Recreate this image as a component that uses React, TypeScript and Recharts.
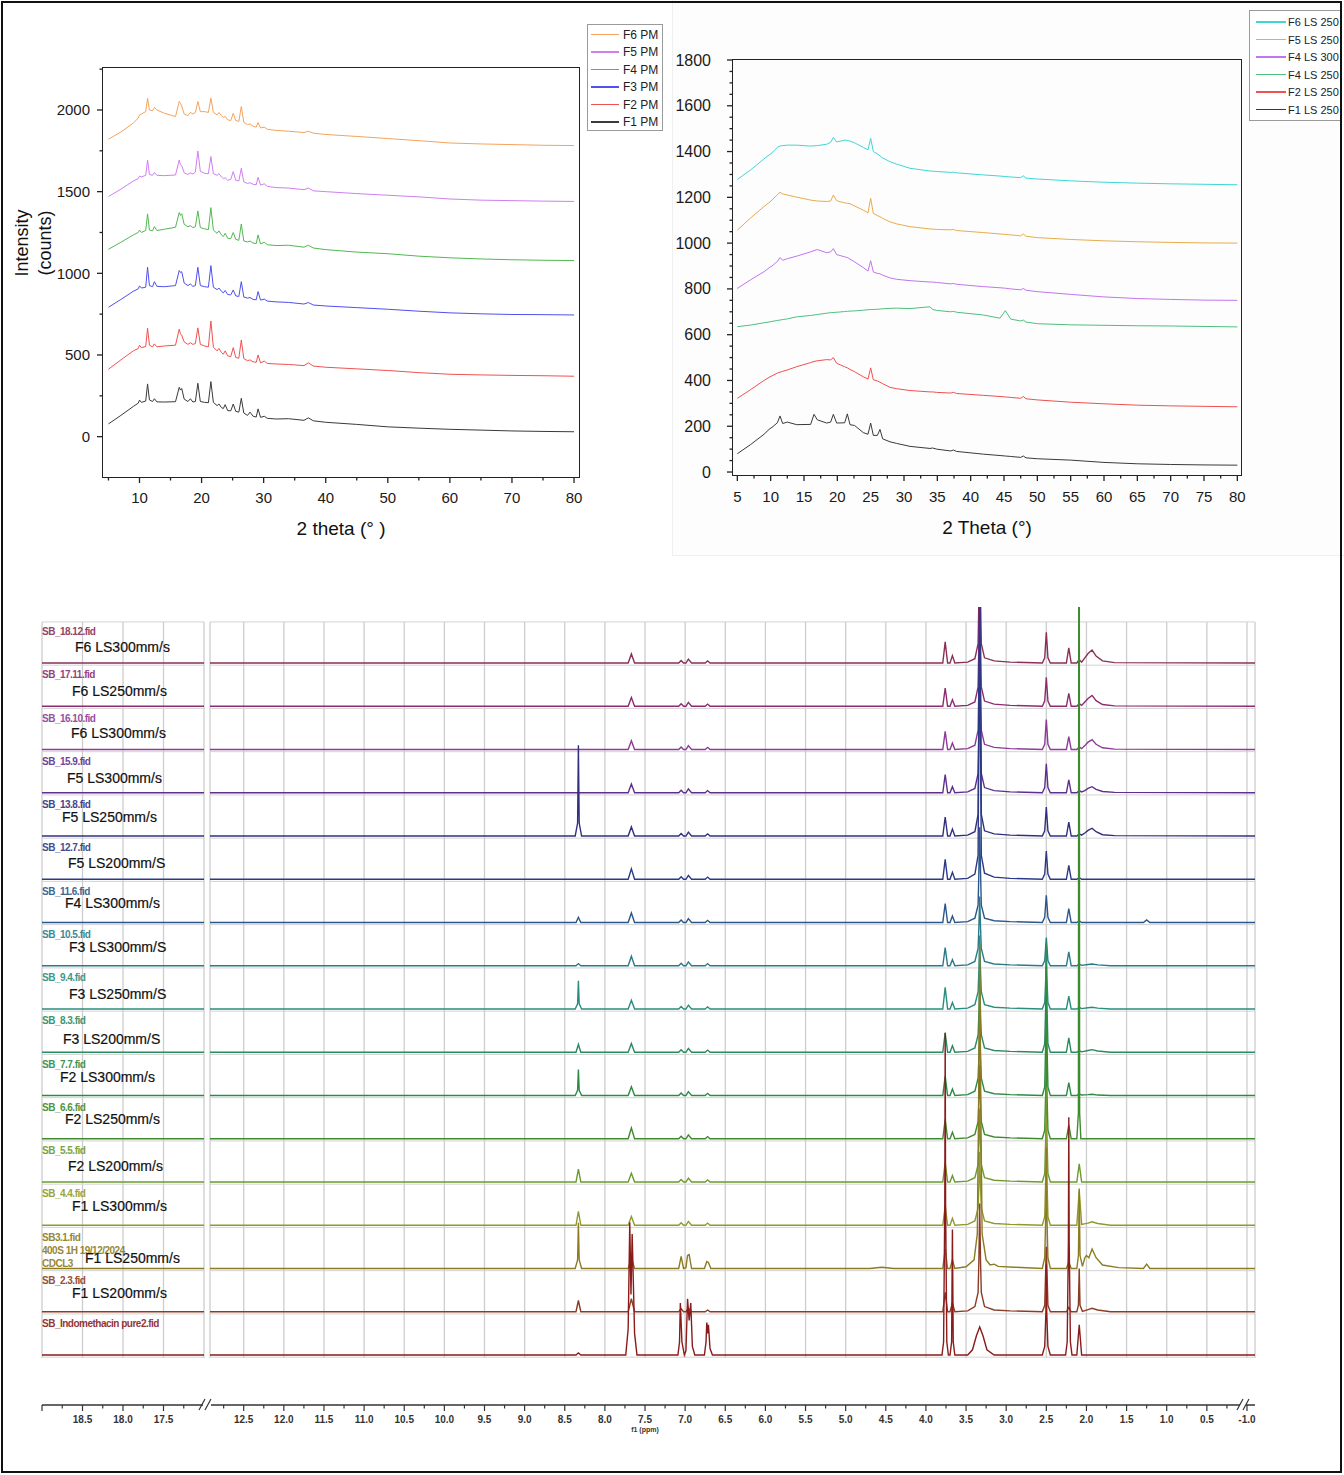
import React from 'react';
import { LineChart, Line, XAxis, YAxis, ReferenceLine } from 'recharts';

const FONT = '"Liberation Sans", Arial, Helvetica, sans-serif';

/* ================= Top-left XRD: physical mixtures ================= */
const pmTheta = [5, 7, 9, 9.8, 10.0, 10.3, 11.0, 11.3, 11.6, 12.1, 12.4, 12.8, 14, 15.8, 16.4, 16.6, 16.8, 17.2, 17.8, 18.2, 18.6, 19.0, 19.4, 19.8, 20.5, 21.1, 21.5, 21.9, 22.5, 22.8, 23.2, 23.5, 23.8, 24.2, 24.7, 25.1, 25.5, 26.0, 26.4, 26.8, 27.4, 27.8, 28.3, 28.8, 29.1, 29.5, 30.1, 30.6, 32, 34, 36.5, 37.2, 38, 40, 45, 50, 55, 60, 65, 70, 75, 80];
const pmF1 = [78, 130, 185, 205, 224, 210, 218, 323, 225, 215, 232, 213, 212, 214, 302, 285, 295, 230, 215, 232, 212, 215, 327, 215, 210, 208, 337, 210, 190, 200, 178, 172, 196, 160, 158, 200, 155, 150, 235, 145, 130, 150, 125, 120, 170, 118, 125, 112, 108, 110, 100, 115, 97, 88, 75, 60, 52, 45, 40, 35, 32, 30];
const pmF2 = [413, 470, 525, 540, 560, 545, 552, 664, 560, 550, 568, 550, 555, 560, 658, 630, 621, 580, 565, 575, 565, 570, 666, 565, 555, 550, 708, 548, 525, 540, 515, 505, 525, 495, 490, 545, 485, 480, 592, 478, 465, 470, 458, 455, 500, 452, 462, 448, 445, 442, 435, 452, 432, 425, 415, 405, 392, 382, 378, 375, 373, 370];
const pmF3 = [792, 840, 890, 905, 923, 910, 915, 1037, 925, 918, 949, 920, 918, 925, 1017, 1005, 1010, 940, 925, 935, 920, 925, 1037, 925, 918, 915, 1047, 915, 900, 910, 890, 880, 895, 870, 868, 898, 862, 858, 949, 855, 848, 852, 840, 838, 888, 836, 842, 830, 825, 822, 812, 821, 806, 800, 790, 780, 768, 758, 752, 748, 747, 745];
const pmF4 = [1147, 1190, 1235, 1250, 1265, 1250, 1262, 1364, 1265, 1260, 1286, 1262, 1270, 1282, 1372, 1355, 1365, 1300, 1285, 1292, 1280, 1285, 1382, 1280, 1272, 1268, 1402, 1265, 1245, 1260, 1235, 1225, 1245, 1215, 1212, 1250, 1208, 1202, 1302, 1198, 1192, 1198, 1185, 1182, 1235, 1180, 1190, 1175, 1170, 1172, 1160, 1172, 1155, 1145, 1130, 1120, 1105, 1095, 1088, 1083, 1080, 1078];
const pmF5 = [1470, 1515, 1565, 1580, 1595, 1590, 1600, 1694, 1605, 1600, 1617, 1600, 1598, 1602, 1694, 1665, 1660, 1615, 1605, 1615, 1608, 1620, 1749, 1625, 1612, 1610, 1715, 1610, 1600, 1610, 1590, 1580, 1585, 1570, 1575, 1623, 1570, 1565, 1643, 1560, 1550, 1555, 1545, 1542, 1588, 1540, 1548, 1532, 1525, 1522, 1512, 1522, 1505, 1500, 1488, 1478, 1468, 1455, 1448, 1445, 1442, 1440];
const pmF6 = [1821, 1865, 1920, 1950, 1970, 1975, 1990, 2072, 2000, 1995, 2015, 2000, 1980, 1960, 2052, 2040, 2025, 1975, 1965, 1985, 1975, 1985, 2052, 1990, 1990, 1985, 2072, 1985, 1970, 1985, 1965, 1955, 1960, 1940, 1935, 1980, 1935, 1930, 2021, 1925, 1910, 1915, 1900, 1895, 1923, 1890, 1895, 1882, 1875, 1870, 1862, 1870, 1858, 1850, 1838, 1825, 1812, 1798, 1792, 1788, 1784, 1782];
const pmNames = ['F6 PM', 'F5 PM', 'F4 PM', 'F3 PM', 'F2 PM', 'F1 PM'];
const pmColors = ['#f5a35c', '#cf7ff0', '#52b852', '#5050ee', '#f05252', '#3a3a3a'];
const pmValues = [pmF6, pmF5, pmF4, pmF3, pmF2, pmF1];
const pmXTicks = [5, 10, 15, 20, 25, 30, 35, 40, 45, 50, 55, 60, 65, 70, 75, 80];
const pmYTicks = [0, 250, 500, 750, 1000, 1250, 1500, 1750, 2000, 2250];

/* ================= Top-right XRD: laser-sintered ================= */
const lsTheta = [5, 7, 9, 9.9, 10.2, 11.0, 11.4, 11.8, 12.5, 13.9, 16.0, 16.5, 17.0, 18.4, 19.0, 19.4, 19.9, 21.1, 21.5, 21.9, 22.6, 23.9, 24.6, 25.0, 25.4, 26.0, 26.4, 26.8, 27.9, 28.9, 30.9, 33.9, 34.3, 34.9, 37.0, 37.4, 37.9, 41.9, 44.4, 45.2, 46.0, 47.5, 47.9, 48.3, 50, 55, 60, 65, 70, 75, 80];
const lsF1 = [80, 120, 165, 190, 195, 215, 245, 212, 218, 207, 208, 252, 228, 214, 218, 252, 214, 215, 254, 207, 203, 172, 165, 214, 160, 160, 186, 145, 132, 125, 112, 103, 105, 100, 92, 96, 90, 78, 72, 70, 68, 64, 70, 62, 58, 52, 42, 36, 33, 31, 30];
const lsF2 = [322, 360, 400, 416, 420, 432, 436, 440, 446, 460, 478, 483, 486, 491, 490, 500, 475, 460, 455, 448, 438, 416, 406, 455, 403, 398, 392, 386, 370, 364, 356, 350, 350, 348, 345, 348, 343, 335, 330, 328, 326, 322, 330, 320, 315, 305, 298, 292, 289, 287, 285];
const lsF4a = [635, 642, 652, 656, 658, 662, 664, 666, 669, 678, 684, 686, 688, 694, 696, 697, 698, 701, 702, 703, 704, 707, 709, 710, 710, 711, 712, 713, 715, 716, 714, 722, 710, 706, 700, 702, 698, 686, 672, 705, 668, 660, 664, 655, 648, 643, 641, 639, 638, 636, 634];
const lsF4b = [802, 840, 875, 895, 900, 920, 937, 925, 932, 943, 962, 967, 972, 958, 962, 976, 950, 940, 937, 930, 918, 893, 878, 923, 874, 868, 866, 860, 848, 842, 836, 830, 830, 828, 822, 824, 820, 810, 805, 803, 800, 796, 802, 794, 788, 776, 765, 758, 754, 751, 750];
const lsF5 = [1057, 1110, 1160, 1180, 1188, 1212, 1222, 1215, 1210, 1201, 1188, 1186, 1184, 1182, 1184, 1210, 1185, 1176, 1174, 1172, 1162, 1144, 1132, 1196, 1130, 1120, 1116, 1108, 1093, 1084, 1072, 1062, 1061, 1060, 1058, 1060, 1055, 1046, 1040, 1038, 1036, 1032, 1040, 1030, 1024, 1016, 1010, 1006, 1003, 1001, 1000];
const lsF6 = [1278, 1320, 1368, 1388, 1395, 1418, 1424, 1426, 1428, 1428, 1424, 1425, 1426, 1432, 1440, 1462, 1442, 1450, 1448, 1446, 1438, 1418, 1408, 1458, 1400, 1390, 1381, 1372, 1356, 1345, 1327, 1315, 1314, 1313, 1309, 1310, 1307, 1298, 1293, 1291, 1289, 1286, 1294, 1284, 1280, 1272, 1266, 1262, 1259, 1257, 1255];
const lsNames = ['F6 LS 250', 'F5 LS 250', 'F4 LS 300', 'F4 LS 250', 'F2 LS 250', 'F1 LS 250'];
const lsColors = ['#3fd6d6', '#e6ad4e', '#c275ee', '#4fbf7f', '#ef5050', '#3a3a3a'];
const lsValues = [lsF6, lsF5, lsF4b, lsF4a, lsF2, lsF1];
const lsXTicks = [5, 7.5, 10, 12.5, 15, 17.5, 20, 22.5, 25, 27.5, 30, 32.5, 35, 37.5, 40, 42.5, 45, 47.5, 50, 52.5, 55, 57.5, 60, 62.5, 65, 67.5, 70, 72.5, 75, 77.5, 80];
const lsYTicks = [0, 50, 100, 150, 200, 250, 300, 350, 400, 450, 500, 550, 600, 650, 700, 750, 800, 850, 900, 950, 1000, 1050, 1100, 1150, 1200, 1250, 1300, 1350, 1400, 1450, 1500, 1550, 1600, 1650, 1700, 1750, 1800];

/* ================= Bottom: 1H NMR stack ([ppm, relative intensity]) ================= */
const nmrT01 = [[12.92, 0], [7.71, 0], [7.67, 0.21], [7.63, 0], [7.08, 0], [7.05, 0.06], [7.02, 0], [6.99, 0], [6.96, 0.09], [6.92, 0], [6.75, 0], [6.72, 0.05], [6.69, 0], [3.79, 0], [3.76, 0.49], [3.73, 0], [3.70, 0], [3.67, 0.17], [3.64, 0], [3.48, 0.02], [3.39, 0.1], [3.35, 0.45], [3.34, 1.5], [3.33, 3.2], [3.32, 1.5], [3.31, 0.45], [3.27, 0.12], [3.15, 0.05], [2.95, 0.02], [2.55, 0], [2.52, 0.12], [2.50, 0.71], [2.48, 0.12], [2.45, 0], [2.25, 0], [2.22, 0.35], [2.19, 0], [2.12, 0], [2.09, 0.08], [2.06, 0.02], [2.02, 0.12], [1.98, 0.22], [1.93, 0.30], [1.88, 0.16], [1.80, 0.05], [1.65, 0.01], [-0.1, 0]];
const nmrT02 = [[12.92, 0], [7.71, 0], [7.67, 0.2], [7.63, 0], [7.08, 0], [7.05, 0.06], [7.02, 0], [6.99, 0], [6.96, 0.09], [6.92, 0], [6.75, 0], [6.72, 0.05], [6.69, 0], [3.79, 0], [3.76, 0.42], [3.73, 0], [3.70, 0], [3.67, 0.15], [3.64, 0], [3.48, 0.02], [3.39, 0.1], [3.35, 0.45], [3.34, 1.5], [3.33, 3.0], [3.32, 1.5], [3.31, 0.45], [3.27, 0.12], [3.15, 0.05], [2.95, 0.02], [2.55, 0], [2.52, 0.12], [2.50, 0.67], [2.48, 0.12], [2.45, 0], [2.25, 0], [2.22, 0.30], [2.19, 0], [2.12, 0], [2.09, 0.06], [2.06, 0.02], [2.02, 0.1], [1.98, 0.18], [1.93, 0.25], [1.88, 0.13], [1.80, 0.04], [1.65, 0.01], [-0.1, 0]];
const nmrT03 = [[12.92, 0], [7.71, 0], [7.67, 0.2], [7.63, 0], [7.08, 0], [7.05, 0.06], [7.02, 0], [6.99, 0], [6.96, 0.09], [6.92, 0], [6.75, 0], [6.72, 0.05], [6.69, 0], [3.79, 0], [3.76, 0.42], [3.73, 0], [3.70, 0], [3.67, 0.15], [3.64, 0], [3.48, 0.02], [3.39, 0.1], [3.35, 0.45], [3.34, 1.5], [3.33, 3.0], [3.32, 1.5], [3.31, 0.45], [3.27, 0.12], [3.15, 0.05], [2.95, 0.02], [2.55, 0], [2.52, 0.12], [2.50, 0.69], [2.48, 0.12], [2.45, 0], [2.25, 0], [2.22, 0.30], [2.19, 0], [2.12, 0], [2.09, 0.06], [2.06, 0.02], [2.02, 0.09], [1.98, 0.17], [1.93, 0.23], [1.88, 0.12], [1.80, 0.04], [1.65, 0.01], [-0.1, 0]];
const nmrT04 = [[12.92, 0], [7.71, 0], [7.67, 0.2], [7.63, 0], [7.08, 0], [7.05, 0.06], [7.02, 0], [6.99, 0], [6.96, 0.09], [6.92, 0], [6.75, 0], [6.72, 0.05], [6.69, 0], [3.79, 0], [3.76, 0.42], [3.73, 0], [3.70, 0], [3.67, 0.14], [3.64, 0], [3.48, 0.02], [3.39, 0.1], [3.35, 0.45], [3.34, 1.5], [3.33, 3.0], [3.32, 1.5], [3.31, 0.45], [3.27, 0.12], [3.15, 0.05], [2.95, 0.02], [2.55, 0], [2.52, 0.12], [2.50, 0.67], [2.48, 0.12], [2.45, 0], [2.25, 0], [2.22, 0.30], [2.19, 0], [2.12, 0], [2.09, 0.05], [2.06, 0.02], [2.02, 0.05], [1.98, 0.1], [1.93, 0.14], [1.88, 0.08], [1.80, 0.03], [1.65, 0.01], [-0.1, 0]];
const nmrT05 = [[12.92, 0], [8.37, 0], [8.34, 0.3], [8.335, 1.2], [8.33, 2.1], [8.325, 1.2], [8.32, 0.3], [8.29, 0], [7.71, 0], [7.67, 0.21], [7.63, 0], [7.08, 0], [7.05, 0.06], [7.02, 0], [6.99, 0], [6.96, 0.09], [6.92, 0], [6.75, 0], [6.72, 0.05], [6.69, 0], [3.79, 0], [3.76, 0.44], [3.73, 0], [3.70, 0], [3.67, 0.16], [3.64, 0], [3.48, 0.02], [3.39, 0.1], [3.35, 0.5], [3.34, 3.0], [3.33, 5.6], [3.32, 3.0], [3.31, 0.5], [3.27, 0.12], [3.15, 0.05], [2.95, 0.02], [2.55, 0], [2.52, 0.12], [2.50, 0.67], [2.48, 0.12], [2.45, 0], [2.25, 0], [2.22, 0.32], [2.19, 0], [2.12, 0], [2.09, 0.05], [2.06, 0.02], [2.02, 0.07], [1.98, 0.13], [1.93, 0.18], [1.88, 0.1], [1.80, 0.03], [1.65, 0.01], [-0.1, 0]];
const nmrT06 = [[12.92, 0], [7.71, 0], [7.67, 0.24], [7.63, 0], [7.08, 0], [7.05, 0.06], [7.02, 0], [6.99, 0], [6.96, 0.09], [6.92, 0], [6.75, 0], [6.72, 0.05], [6.69, 0], [3.79, 0], [3.76, 0.46], [3.73, 0], [3.70, 0], [3.67, 0.16], [3.64, 0], [3.48, 0.02], [3.39, 0.12], [3.35, 0.55], [3.34, 3.5], [3.33, 6.4], [3.32, 3.5], [3.31, 0.55], [3.27, 0.14], [3.15, 0.05], [2.95, 0.02], [2.55, 0], [2.52, 0.12], [2.50, 0.65], [2.48, 0.12], [2.45, 0], [2.25, 0], [2.22, 0.32], [2.19, 0], [2.12, 0], [2.09, 0.04], [2.06, 0], [-0.1, 0]];
const nmrT07 = [[12.92, 0], [8.36, 0], [8.33, 0.12], [8.30, 0], [7.71, 0], [7.67, 0.22], [7.63, 0], [7.08, 0], [7.05, 0.06], [7.02, 0], [6.99, 0], [6.96, 0.09], [6.92, 0], [6.75, 0], [6.72, 0.05], [6.69, 0], [3.79, 0], [3.76, 0.44], [3.73, 0], [3.70, 0], [3.67, 0.15], [3.64, 0], [3.48, 0.02], [3.39, 0.1], [3.35, 0.4], [3.34, 1.2], [3.33, 2.2], [3.32, 1.2], [3.31, 0.4], [3.27, 0.1], [3.15, 0.04], [2.95, 0.02], [2.55, 0], [2.52, 0.12], [2.50, 0.63], [2.48, 0.12], [2.45, 0], [2.25, 0], [2.22, 0.32], [2.19, 0], [2.12, 0], [2.09, 0.04], [2.06, 0], [1.29, 0], [1.25, 0.06], [1.21, 0], [-0.1, 0]];
const nmrT08 = [[12.92, 0], [8.36, 0], [8.33, 0.05], [8.30, 0], [7.71, 0], [7.67, 0.22], [7.63, 0], [7.08, 0], [7.05, 0.06], [7.02, 0], [6.99, 0], [6.96, 0.09], [6.92, 0], [6.75, 0], [6.72, 0.05], [6.69, 0], [3.79, 0], [3.76, 0.42], [3.73, 0], [3.70, 0], [3.67, 0.14], [3.64, 0], [3.48, 0.02], [3.39, 0.1], [3.35, 0.4], [3.34, 0.9], [3.33, 1.6], [3.32, 0.9], [3.31, 0.4], [3.27, 0.1], [3.15, 0.04], [2.95, 0.02], [2.55, 0], [2.52, 0.12], [2.50, 0.65], [2.48, 0.12], [2.45, 0], [2.25, 0], [2.22, 0.32], [2.19, 0], [2.12, 0], [2.09, 0.04], [2.06, 0.01], [1.98, 0.03], [1.93, 0.04], [1.86, 0.02], [1.70, 0], [-0.1, 0]];
const nmrT09 = [[12.92, 0], [8.37, 0], [8.34, 0.12], [8.33, 0.65], [8.32, 0.12], [8.29, 0], [7.71, 0], [7.67, 0.2], [7.63, 0], [7.08, 0], [7.05, 0.06], [7.02, 0], [6.99, 0], [6.96, 0.09], [6.92, 0], [6.75, 0], [6.72, 0.05], [6.69, 0], [3.79, 0], [3.76, 0.5], [3.73, 0], [3.70, 0], [3.67, 0.15], [3.64, 0], [3.48, 0.02], [3.39, 0.1], [3.35, 0.4], [3.34, 0.9], [3.33, 1.7], [3.32, 0.9], [3.31, 0.4], [3.27, 0.1], [3.15, 0.04], [2.95, 0.02], [2.55, 0], [2.52, 0.15], [2.505, 0.8], [2.50, 1.5], [2.495, 0.8], [2.48, 0.15], [2.45, 0], [2.25, 0], [2.22, 0.30], [2.19, 0], [2.12, 0], [2.09, 0.04], [2.06, 0.01], [1.98, 0.03], [1.93, 0.04], [1.86, 0.02], [1.70, 0], [-0.1, 0]];
const nmrT10 = [[12.92, 0], [8.36, 0], [8.33, 0.18], [8.30, 0], [7.71, 0], [7.67, 0.2], [7.63, 0], [7.08, 0], [7.05, 0.06], [7.02, 0], [6.99, 0], [6.96, 0.09], [6.92, 0], [6.75, 0], [6.72, 0.05], [6.69, 0], [3.79, 0], [3.76, 0.45], [3.73, 0], [3.70, 0], [3.67, 0.15], [3.64, 0], [3.48, 0.02], [3.39, 0.1], [3.35, 0.4], [3.34, 0.9], [3.33, 1.7], [3.32, 0.9], [3.31, 0.4], [3.27, 0.1], [3.15, 0.04], [2.95, 0.02], [2.55, 0], [2.52, 0.2], [2.505, 1.3], [2.50, 2.5], [2.495, 1.3], [2.48, 0.2], [2.45, 0], [2.25, 0], [2.22, 0.33], [2.19, 0], [2.12, 0], [2.09, 0.04], [2.06, 0.01], [1.98, 0.04], [1.93, 0.06], [1.86, 0.03], [1.70, 0], [-0.1, 0]];
const nmrT11 = [[12.92, 0], [8.37, 0], [8.34, 0.12], [8.33, 0.6], [8.32, 0.12], [8.29, 0], [7.71, 0], [7.67, 0.2], [7.63, 0], [7.08, 0], [7.05, 0.06], [7.02, 0], [6.99, 0], [6.96, 0.09], [6.92, 0], [6.75, 0], [6.72, 0.05], [6.69, 0], [3.79, 0], [3.76, 0.45], [3.73, 0], [3.70, 0], [3.67, 0.15], [3.64, 0], [3.48, 0.02], [3.39, 0.1], [3.35, 0.4], [3.34, 0.9], [3.33, 1.7], [3.32, 0.9], [3.31, 0.4], [3.27, 0.1], [3.15, 0.04], [2.95, 0.02], [2.55, 0], [2.52, 0.2], [2.505, 1.5], [2.50, 3.0], [2.495, 1.5], [2.48, 0.2], [2.45, 0], [2.25, 0], [2.22, 0.30], [2.19, 0], [2.12, 0], [2.09, 0.04], [2.06, 0.01], [1.98, 0.02], [1.93, 0.03], [1.86, 0.01], [1.70, 0], [-0.1, 0]];
const nmrT12 = [[12.92, 0], [7.71, 0], [7.67, 0.25], [7.63, 0], [7.08, 0], [7.05, 0.06], [7.02, 0], [6.99, 0], [6.96, 0.09], [6.92, 0], [6.75, 0], [6.72, 0.05], [6.69, 0], [3.79, 0], [3.76, 0.45], [3.73, 0], [3.70, 0], [3.67, 0.15], [3.64, 0], [3.48, 0.02], [3.39, 0.1], [3.35, 0.4], [3.34, 0.9], [3.33, 1.7], [3.32, 0.9], [3.31, 0.4], [3.27, 0.1], [3.15, 0.04], [2.95, 0.02], [2.55, 0], [2.52, 0.2], [2.505, 1.3], [2.50, 2.5], [2.495, 1.3], [2.48, 0.2], [2.45, 0], [2.25, 0], [2.22, 0.32], [2.19, 0], [2.12, 0], [2.10, 0.6], [2.096, 12.5], [2.089, 12.5], [2.085, 0.6], [2.07, 0], [-0.1, 0]];
const nmrT13 = [[12.92, 0], [8.36, 0], [8.33, 0.3], [8.30, 0], [7.71, 0], [7.67, 0.2], [7.63, 0], [7.08, 0], [7.05, 0.06], [7.02, 0], [6.99, 0], [6.96, 0.09], [6.92, 0], [6.75, 0], [6.72, 0.05], [6.69, 0], [3.79, 0], [3.76, 0.45], [3.73, 0], [3.70, 0], [3.67, 0.15], [3.64, 0], [3.48, 0.02], [3.39, 0.1], [3.35, 0.4], [3.34, 0.9], [3.33, 1.7], [3.32, 0.9], [3.31, 0.4], [3.27, 0.1], [3.15, 0.04], [2.95, 0.02], [2.55, 0], [2.52, 0.2], [2.505, 1.2], [2.50, 2.2], [2.495, 1.2], [2.48, 0.2], [2.45, 0], [2.12, 0], [2.09, 0.42], [2.06, 0], [-0.1, 0]];
const nmrT14 = [[12.92, 0], [8.36, 0], [8.33, 0.32], [8.30, 0], [7.71, 0], [7.67, 0.2], [7.63, 0], [7.08, 0], [7.05, 0.06], [7.02, 0], [6.99, 0], [6.96, 0.09], [6.92, 0], [6.75, 0], [6.72, 0.05], [6.69, 0], [3.79, 0], [3.76, 0.45], [3.73, 0], [3.70, 0], [3.67, 0.16], [3.64, 0], [3.48, 0.02], [3.39, 0.1], [3.35, 0.4], [3.34, 0.9], [3.33, 1.7], [3.32, 0.9], [3.31, 0.4], [3.27, 0.1], [3.15, 0.04], [2.95, 0.02], [2.55, 0], [2.52, 0.2], [2.505, 1.3], [2.50, 2.5], [2.495, 1.3], [2.48, 0.2], [2.45, 0], [2.12, 0], [2.09, 0.8], [2.06, 0.02], [1.98, 0.05], [1.93, 0.08], [1.86, 0.04], [1.70, 0], [-0.1, 0]];
const nmrT15 = [[12.92, 0], [8.37, 0], [8.34, 0.2], [8.335, 0.6], [8.33, 1.06], [8.325, 0.6], [8.32, 0.2], [8.29, 0], [7.71, 0], [7.67, 0.25], [7.63, 0], [7.08, 0], [7.05, 0.28], [7.02, 0], [6.99, 0.02], [6.97, 0.3], [6.95, 0.32], [6.92, 0], [6.76, 0], [6.73, 0.16], [6.71, 0.14], [6.68, 0], [4.70, 0], [4.55, 0.03], [4.40, 0], [3.79, 0], [3.76, 0.45], [3.73, 0], [3.70, 0], [3.67, 0.2], [3.64, 0], [3.50, 0.04], [3.40, 0.2], [3.36, 0.8], [3.345, 3.5], [3.33, 7.5], [3.315, 3.5], [3.30, 0.8], [3.25, 0.2], [3.20, 0.08], [3.15, 0.1], [3.10, 0.05], [2.90, 0.03], [2.55, 0], [2.52, 0.25], [2.505, 1.4], [2.50, 2.8], [2.495, 1.4], [2.48, 0.25], [2.45, 0], [2.25, 0], [2.22, 0.15], [2.19, 0], [2.12, 0], [2.10, 0.3], [2.095, 1.0], [2.09, 1.85], [2.085, 1.0], [2.08, 0.3], [2.05, 0.05], [2.02, 0.25], [2.00, 0.3], [1.97, 0.25], [1.93, 0.45], [1.88, 0.25], [1.80, 0.08], [1.60, 0.02], [1.29, 0], [1.25, 0.1], [1.21, 0], [-0.1, 0]];
const nmrT16 = [[12.92, 0], [8.36, 0], [8.33, 0.26], [8.30, 0], [7.71, 0], [7.67, 0.3], [7.63, 0], [7.08, 0], [7.05, 0.07], [7.02, 0], [6.99, 0], [6.96, 0.08], [6.92, 0], [6.75, 0], [6.72, 0.04], [6.69, 0], [3.79, 0], [3.76, 0.45], [3.73, 0], [3.70, 0], [3.67, 0.2], [3.64, 0], [3.48, 0.02], [3.39, 0.12], [3.35, 0.45], [3.34, 1.2], [3.33, 2.5], [3.32, 1.2], [3.31, 0.45], [3.27, 0.12], [3.15, 0.04], [2.95, 0.02], [2.55, 0], [2.52, 0.15], [2.50, 1.5], [2.48, 0.15], [2.45, 0], [2.25, 0], [2.22, 0.1], [2.19, 0], [2.12, 0], [2.10, 0.15], [2.09, 1.0], [2.08, 0.15], [2.05, 0.01], [1.98, 0.05], [1.93, 0.08], [1.86, 0.04], [1.70, 0], [-0.1, 0]];
const nmrT17 = [[12.92, 0], [8.36, 0], [8.33, 0.05], [8.30, 0], [7.74, 0], [7.71, 0.6], [7.69, 3.07], [7.675, 1.4], [7.66, 2.8], [7.63, 0.5], [7.60, 0], [7.09, 0], [7.07, 0.3], [7.06, 1.2], [7.04, 0.3], [7.01, 0], [6.99, 0.1], [6.97, 1.3], [6.95, 0.8], [6.93, 1.2], [6.91, 0.2], [6.88, 0], [6.76, 0], [6.74, 0.3], [6.73, 0.75], [6.72, 0.5], [6.71, 0.7], [6.69, 0.15], [6.66, 0], [3.80, 0], [3.78, 0.3], [3.765, 3.5], [3.76, 7.45], [3.755, 3.5], [3.74, 0.3], [3.72, 0], [3.70, 0], [3.68, 0.3], [3.67, 2.9], [3.66, 0.3], [3.64, 0], [3.48, 0], [3.42, 0.12], [3.37, 0.45], [3.33, 0.65], [3.29, 0.45], [3.24, 0.12], [3.15, 0], [2.55, 0], [2.52, 0.2], [2.505, 1.0], [2.50, 2.1], [2.495, 1.0], [2.48, 0.2], [2.45, 0], [2.26, 0], [2.24, 0.3], [2.225, 2.6], [2.22, 5.5], [2.215, 2.6], [2.20, 0.3], [2.18, 0], [2.12, 0], [2.09, 0.7], [2.06, 0], [-0.1, 0]];

const nmrFiles = ['SB_18.12.fid', 'SB_17.11.fid', 'SB_16.10.fid', 'SB_15.9.fid', 'SB_13.8.fid', 'SB_12.7.fid', 'SB_11.6.fid', 'SB_10.5.fid', 'SB_9.4.fid', 'SB_8.3.fid', 'SB_7.7.fid', 'SB_6.6.fid', 'SB_5.5.fid', 'SB_4.4.fid', 'SB3.1.fid\n400S 1H 19/12/2024\nCDCL3', 'SB_2.3.fid', 'SB_Indomethacin pure2.fid'];
const nmrSamples = ['F6 LS300mm/s', 'F6 LS250mm/s', 'F6 LS300mm/s', 'F5 LS300mm/s', 'F5 LS250mm/s', 'F5 LS200mm/S', 'F4 LS300mm/s', 'F3 LS300mm/S', 'F3 LS250mm/S', 'F3 LS200mm/S', 'F2 LS300mm/s', 'F2 LS250mm/s', 'F2 LS200mm/s', 'F1 LS300mm/s', 'F1 LS250mm/s', 'F1 LS200mm/s', ''];
const nmrColors = ['#8a2f57', '#8d2b70', '#8e3a98', '#5f2f8e', '#31307f', '#2c3a86', '#2b568a', '#2a7b8a', '#2a8d7e', '#2a8a60', '#2c8a45', '#3d8b2c', '#6c9a2f', '#8f9a2b', '#8c7b22', '#8b3c24', '#8a1b1b'];
const nmrData = [nmrT01, nmrT02, nmrT03, nmrT04, nmrT05, nmrT06, nmrT07, nmrT08, nmrT09, nmrT10, nmrT11, nmrT12, nmrT13, nmrT14, nmrT15, nmrT16, nmrT17];
const nmrLeftRange = [19.0, 17.0];
const nmrRightMajor = [12.5, 12.0, 11.5, 11.0, 10.5, 10.0, 9.5, 9.0, 8.5, 8.0, 7.5, 7.0, 6.5, 6.0, 5.5, 5.0, 4.5, 4.0, 3.5, 3.0, 2.5, 2.0, 1.5, 1.0, 0.5, 0.0];
const nmrRightMajorText = ['12.5', '12.0', '11.5', '11.0', '10.5', '10.0', '9.5', '9.0', '8.5', '8.0', '7.5', '7.0', '6.5', '6.0', '5.5', '5.0', '4.5', '4.0', '3.5', '3.0', '2.5', '2.0', '1.5', '1.0', '0.5', '-1.0'];
const nmrRightMinor = [12.75, 12.25, 11.75, 11.25, 10.75, 10.25, 9.75, 9.25, 8.75, 8.25, 7.75, 7.25, 6.75, 6.25, 5.75, 5.25, 4.75, 4.25, 3.75, 3.25, 2.75, 2.25, 1.75, 1.25, 0.75, 0.25];
const nmrLeftMajor = [19.0, 18.5, 18.0, 17.5];
const nmrLeftMajorText = ['', '18.5', '18.0', '17.5'];
const nmrLeftMinor = [18.75, 18.25, 17.75, 17.25];
const nmrGridRight = [12.92, 12.5, 12.0, 11.5, 11.0, 10.5, 10.0, 9.5, 9.0, 8.5, 8.0, 7.5, 7.0, 6.5, 6.0, 5.5, 5.0, 4.5, 4.0, 3.5, 3.0, 2.5, 2.0, 1.5, 1.0, 0.5, 0.0, -0.1];
const nmrGridLeft = [19.0, 18.5, 18.0, 17.5, 17.0];

/* layout constants */
const NMR_TOP_BASE = 663;
const NMR_STEP = 43.25;
const nmrLabelX = [75, 72, 71, 67, 62, 68, 65, 69, 69, 63, 60, 65, 68, 72, 85, 72, 0];
const nmrLabelDy = [-16, -15, -17, -15, -19, -16, -20, -19, -15, -13, -19, -20, -16, -19, -11, -19, 0];

/* ================= helpers ================= */
const near = (v: number, step: number) => Math.abs(v / step - Math.round(v / step)) < 1e-6;

function LeftTick(props: any) {
  const { x, y, payload, majorStep, fontSize, gap } = props;
  const v = payload.value;
  const major = near(v, majorStep);
  return (
    <g>
      <line x1={x} y1={y} x2={x - (major ? 6 : 3.5)} y2={y} stroke="#222" strokeWidth={1.3} />
      {major && (
        <text x={x - gap} y={y} textAnchor="end" dominantBaseline="central" fontSize={fontSize} fontFamily={FONT} fill="#1a1a1a">
          {v}
        </text>
      )}
    </g>
  );
}

function BottomTick(props: any) {
  const { x, y, payload, majorStep, fontSize, gap } = props;
  const v = payload.value;
  const major = near(v, majorStep);
  return (
    <g>
      <line x1={x} y1={y} x2={x} y2={y + (major ? 6 : 3.5)} stroke="#222" strokeWidth={1.3} />
      {major && (
        <text x={x} y={y + gap} textAnchor="middle" dominantBaseline="central" fontSize={fontSize} fontFamily={FONT} fill="#1a1a1a">
          {v}
        </text>
      )}
    </g>
  );
}

function NmrTick(props: any) {
  const { x, y, payload, majors, texts } = props;
  const v = payload.value;
  const idx = majors.findIndex((m: number) => Math.abs(m - v) < 1e-6);
  const major = idx >= 0;
  return (
    <g>
      <line x1={x} y1={y} x2={x} y2={y + (major ? 6 : 3.5)} stroke="#333" strokeWidth={1.2} />
      {major && texts[idx] !== '' && (
        <text x={x} y={y + 14} textAnchor="middle" dominantBaseline="central" fontSize={10} fontWeight="bold" fontFamily={FONT} fill="#333">
          {texts[idx]}
        </text>
      )}
    </g>
  );
}

function LegendBox(props: any) {
  const { left, top, width, height, names, colors, fontSize, first, row, lineFrom, lineTo, textX } = props;
  return (
    <div style={{ position: 'absolute', left, top, width, height, border: '1px solid #9a9a9a', boxSizing: 'border-box', background: '#fff' }}>
      {names.map((n: string, i: number) => (
        <div key={n} style={{ position: 'absolute', left: 0, top: first + i * row - 8, height: 16, width: '100%' }}>
          <div style={{ position: 'absolute', left: lineFrom, width: lineTo - lineFrom, top: 7, height: 1.6, background: colors[i] }} />
          <div style={{ position: 'absolute', left: textX, top: 0, lineHeight: '16px', fontSize, fontFamily: FONT, color: '#222', whiteSpace: 'nowrap' }}>{n}</div>
        </div>
      ))}
    </div>
  );
}

const absText = (text: string, cx: number, cy: number, size: number, rotate = 0, extra: any = {}) => (
  <div
    style={{
      position: 'absolute',
      left: cx,
      top: cy,
      transform: `translate(-50%, -50%) rotate(${rotate}deg)`,
      fontSize: size,
      fontFamily: FONT,
      color: '#111',
      whiteSpace: 'nowrap',
      ...extra,
    }}
  >
    {text}
  </div>
);

/* ================= panels ================= */
function PmPanel() {
  const rows = pmTheta.map((t, i) => {
    const r: any = { theta: t };
    pmValues.forEach((vals, k) => {
      r['s' + k] = vals[i];
    });
    return r;
  });
  return (
    <>
      <div style={{ position: 'absolute', left: 0, top: 0 }}>
        <LineChart width={672} height={560} data={rows} margin={{ top: 68, right: 93, bottom: 53, left: 43 }}>
          <XAxis type="number" dataKey="theta" domain={[4.12, 80.8]} allowDataOverflow ticks={pmXTicks} interval={0} tickSize={0} tickMargin={0} axisLine={false} tickLine={false} height={30} tick={<BottomTick majorStep={10} fontSize={15} gap={20} />} />
          <YAxis type="number" domain={[-247, 2257]} allowDataOverflow ticks={pmYTicks} interval={0} tickSize={0} tickMargin={0} axisLine={false} tickLine={false} width={60} tick={<LeftTick majorStep={500} fontSize={15} gap={13} />} />
          {pmValues.map((_, k) => (
            <Line key={k} type="linear" dataKey={'s' + k} name={pmNames[k]} stroke={pmColors[k]} strokeWidth={1} dot={false} isAnimationActive={false} />
          ))}
        </LineChart>
      </div>
      <div style={{ position: 'absolute', left: 102, top: 67, width: 478, height: 411, border: '1.6px solid #222', boxSizing: 'border-box', pointerEvents: 'none' }} />
      <LegendBox left={587} top={24} width={76} height={107} names={pmNames} colors={pmColors} fontSize={12} first={9.5} row={17.5} lineFrom={3} lineTo={31} textX={35} />
      {absText('Intensity', 22, 243, 18, -90)}
      {absText('(counts)', 45, 243, 18, -90)}
      {absText('2 theta (° )', 341, 529, 19)}
    </>
  );
}

function LsPanel() {
  const rows = lsTheta.map((t, i) => {
    const r: any = { theta: t };
    lsValues.forEach((vals, k) => {
      r['s' + k] = vals[i];
    });
    return r;
  });
  return (
    <>
      <div style={{ position: 'absolute', left: 672, top: 0, width: 672, height: 556, background: '#fdfdfd', borderLeft: '1px solid #f0f0f0', borderBottom: '1px solid #f0f0f0', boxSizing: 'border-box' }} />
      <div style={{ position: 'absolute', left: 672, top: 0 }}>
        <LineChart width={672} height={560} data={rows} margin={{ top: 60, right: 103, bottom: 55, left: 6 }}>
          <XAxis type="number" dataKey="theta" domain={[4.35, 80.55]} allowDataOverflow ticks={lsXTicks} interval={0} tickSize={0} tickMargin={0} axisLine={false} tickLine={false} height={30} tick={<BottomTick majorStep={5} fontSize={15} gap={21} />} />
          <YAxis type="number" domain={[-13, 1800]} allowDataOverflow ticks={lsYTicks} interval={0} tickSize={0} tickMargin={0} axisLine={false} tickLine={false} width={55} tick={<LeftTick majorStep={200} fontSize={16} gap={22} />} />
          {lsValues.map((_, k) => (
            <Line key={k} type="linear" dataKey={'s' + k} name={lsNames[k]} stroke={lsColors[k]} strokeWidth={1} dot={false} isAnimationActive={false} />
          ))}
        </LineChart>
      </div>
      <div style={{ position: 'absolute', left: 732, top: 59, width: 510, height: 417, border: '1.6px solid #222', boxSizing: 'border-box', pointerEvents: 'none' }} />
      <LegendBox left={1249} top={10} width={93} height={111} names={lsNames} colors={lsColors} fontSize={11} first={11} row={17.5} lineFrom={6} lineTo={36} textX={38} />
      {absText('2 Theta (°)', 987, 528, 19)}
    </>
  );
}

function nmrRows(data: number[][], offset: number) {
  return data.map(([ppm, h]) => ({ ppm, v: h + offset }));
}

function NmrPanel() {
  const yDomain: [number, number] = [-1.156, 17.295];
  const n = nmrData.length;
  const hLines = Array.from({ length: n }, (_, k) => k - 0.05).concat([16.95]);
  return (
    <>
      {/* left (19 - 17 ppm) segment */}
      <div style={{ position: 'absolute', left: 0, top: 600 }}>
        <LineChart width={210} height={840} margin={{ top: 7, right: 6, bottom: 5, left: 42 }}>
          <XAxis type="number" dataKey="ppm" domain={[17.0, 19.0]} reversed allowDataOverflow ticks={[...nmrLeftMajor, ...nmrLeftMinor]} interval={0} tickSize={0} tickMargin={0} tickLine={false} axisLine={{ stroke: '#333', strokeWidth: 1.4 }} height={30} tick={<NmrTick majors={nmrLeftMajor} texts={nmrLeftMajorText} />} />
          <YAxis hide type="number" domain={yDomain} allowDataOverflow />
          {nmrGridLeft.map((p) => (
            <ReferenceLine key={'gl' + p} segment={[{ x: p, y: -0.07 }, { x: p, y: 16.95 }]} stroke="#cdcdcd" strokeWidth={1.3} ifOverflow="visible" />
          ))}
          {hLines.map((yv) => (
            <ReferenceLine key={'hl' + yv} y={yv} stroke="#d4d4d4" strokeWidth={1} ifOverflow="visible" />
          ))}
          {nmrData.map((_, i) => (
            <Line key={i} type="linear" data={nmrLeftRange.map((ppm) => ({ ppm, v: n - 1 - i }))} dataKey="v" stroke={nmrColors[i]} strokeWidth={1.4} dot={false} isAnimationActive={false} />
          ))}
        </LineChart>
      </div>
      {/* right (12.9 - 0 ppm) segment */}
      <div style={{ position: 'absolute', left: 200, top: 600 }}>
        <LineChart width={1100} height={840} margin={{ top: 7, right: 45, bottom: 5, left: 10 }}>
          <XAxis type="number" dataKey="ppm" domain={[-0.1, 12.92]} reversed allowDataOverflow ticks={[...nmrRightMajor, ...nmrRightMinor]} interval={0} tickSize={0} tickMargin={0} tickLine={false} axisLine={{ stroke: '#333', strokeWidth: 1.4 }} height={30} tick={<NmrTick majors={nmrRightMajor} texts={nmrRightMajorText} />} />
          <YAxis hide type="number" domain={yDomain} allowDataOverflow />
          {nmrGridRight.map((p) => (
            <ReferenceLine key={'gr' + p} segment={[{ x: p, y: -0.07 }, { x: p, y: 16.95 }]} stroke="#cdcdcd" strokeWidth={1.3} ifOverflow="visible" />
          ))}
          {hLines.map((yv) => (
            <ReferenceLine key={'hr' + yv} y={yv} stroke="#d4d4d4" strokeWidth={1} ifOverflow="visible" />
          ))}
          {nmrData.map((d, i) => (
            <Line key={i} type="linear" data={nmrRows(d, n - 1 - i)} dataKey="v" stroke={nmrColors[i]} strokeWidth={1.4} dot={false} isAnimationActive={false} />
          ))}
        </LineChart>
      </div>
      {/* axis breaks */}
      <svg style={{ position: 'absolute', left: 0, top: 1395, overflow: 'visible' }} width={1344} height={20}>
        <rect x={203} y={4} width={8} height={12} fill="#fff" />
        <line x1={199} y1={15} x2={205} y2={4} stroke="#333" strokeWidth={1.2} />
        <line x1={205} y1={15} x2={211} y2={4} stroke="#333" strokeWidth={1.2} />
        <rect x={1240} y={4} width={6} height={12} fill="#fff" />
        <line x1={1237} y1={15} x2={1243} y2={4} stroke="#333" strokeWidth={1.2} />
        <line x1={1243} y1={15} x2={1249} y2={4} stroke="#333" strokeWidth={1.2} />
      </svg>
      {absText('f1 (ppm)', 645, 1429, 7, 0, { color: '#333', fontWeight: 'bold' })}
      {/* trace labels */}
      {nmrFiles.map((f, i) => {
        const base = NMR_TOP_BASE + i * NMR_STEP;
        return (
          <div key={'f' + i} style={{ position: 'absolute', left: 42, top: base - 38, fontSize: 10, fontWeight: 'bold', lineHeight: '13px', fontFamily: FONT, color: nmrColors[i], whiteSpace: 'pre', letterSpacing: -0.5, opacity: 0.9 }}>
            {f}
          </div>
        );
      })}
      {nmrSamples.map((s, i) => {
        if (!s) return null;
        const base = NMR_TOP_BASE + i * NMR_STEP;
        return (
          <div key={'s' + i} style={{ position: 'absolute', left: nmrLabelX[i], top: base + nmrLabelDy[i] - 9, fontSize: 14, lineHeight: '18px', fontFamily: FONT, color: '#111', whiteSpace: 'nowrap', WebkitTextStroke: '0.2px #111' }}>
            {s}
          </div>
        );
      })}
    </>
  );
}

export default function App() {
  return (
    <div style={{ position: 'absolute', left: 0, top: 0, width: 1344, height: 1475, background: '#fff', overflow: 'hidden', fontFamily: FONT }}>
      <LsPanel />
      <PmPanel />
      <NmrPanel />
      <div style={{ position: 'absolute', left: 1, top: 1, width: 1341, height: 1472, border: '2px solid #111', boxSizing: 'border-box', pointerEvents: 'none' }} />
    </div>
  );
}
